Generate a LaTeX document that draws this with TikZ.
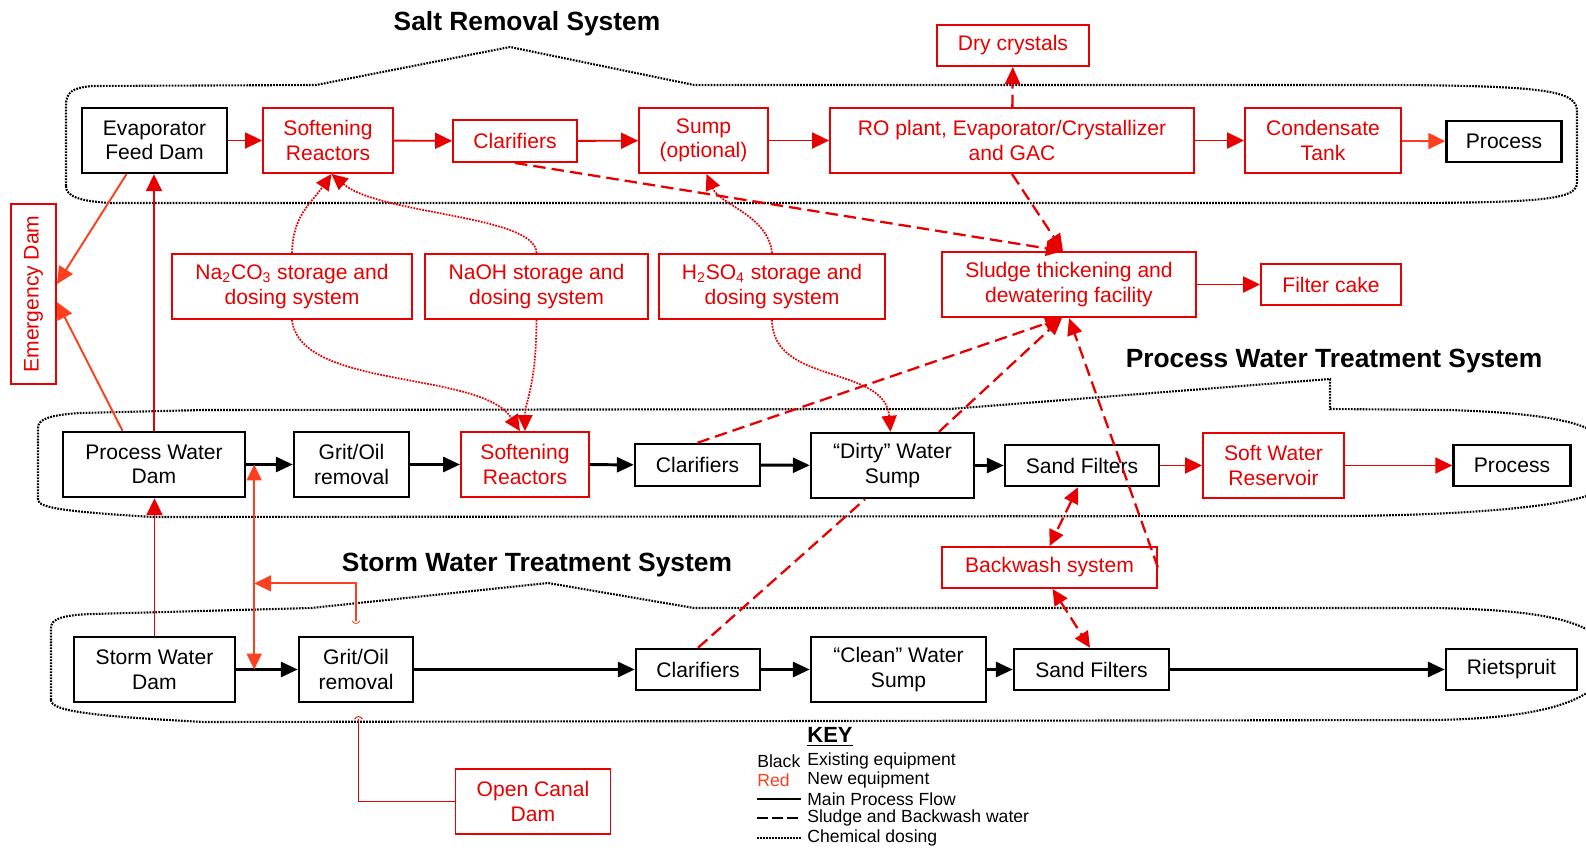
\documentclass[tikz,border=0pt]{standalone}
\usepackage{graphicx}
\usepackage{fontspec}
\setmainfont{Liberation Sans}
\usetikzlibrary{arrows.meta,calc}
\definecolor{newred}{RGB}{232,0,0}
\definecolor{emred}{RGB}{250,64,30}

\begin{document}
\begin{tikzpicture}[x=0.02cm,y=-0.02cm,
  oldbox/.style={draw=black,line width=1.4pt,align=center,inner sep=0pt,font=\fontsize{12}{14}\selectfont},
  newbox/.style={draw=newred,text=newred,line width=1.1pt,align=center,inner sep=0pt,font=\fontsize{12}{14}\selectfont},
  flow/.style={line width=1.7pt,-{Triangle[length=0.34cm,width=0.3cm]}},
  newflow/.style={newred,line width=1.1pt,-{Triangle[length=0.34cm,width=0.32cm]}},
  emflow/.style={emred,line width=1.1pt,-{Triangle[length=0.34cm,width=0.32cm]}},
  sludge/.style={newred,line width=1.3pt,dash pattern=on 0.25cm off 0.12cm,-{Triangle[length=0.34cm,width=0.3cm]}},
  both/.style={{Triangle[length=0.32cm,width=0.3cm]}-{Triangle[length=0.32cm,width=0.3cm]}},
  dosing/.style={newred,line width=1pt,dash pattern=on 1pt off 0.7pt,-{Triangle[length=0.32cm,width=0.3cm]}},
  outline/.style={line width=1.2pt,dash pattern=on 1pt off 0.7pt},
  title/.style={font=\fontsize{15}{17}\selectfont\bfseries},
  keytext/.style={font=\fontsize{10}{12}\selectfont,anchor=west,inner sep=0pt}]
\useasboundingbox (0,0) rectangle (1586,851);

% system outlines
\draw[outline] (66,186) -- (66,106) .. controls (66,92) and (72,88) .. (92,86) -- (316,85) -- (510,47) -- (694,85) -- (1397,85)
  .. controls (1555,86) and (1577,92) .. (1577,112) -- (1577,182) .. controls (1577,198) and (1555,203) .. (1397,203)
  -- (110,203) .. controls (78,201) and (66,196) .. (66,186);
\draw[outline] (38,500) -- (38,428) .. controls (38,419) and (50,415) .. (80,413) -- (204,410) -- (950,409) -- (1330,379) -- (1330,409)
  -- (1450,410) .. controls (1540,413) and (1600,422) .. (1605,445) -- (1605,485) .. controls (1600,500) and (1520,514) .. (1350,516)
  -- (153,517) .. controls (70,512) and (38,508) .. (38,500);
\draw[outline] (51,700) -- (51,628) .. controls (51,619) and (62,615) .. (92,614) -- (311,608) -- (548,583) -- (694,608) -- (1434,608)
  .. controls (1560,610) and (1605,625) .. (1610,660) .. controls (1605,695) and (1560,718) .. (1434,720)
  -- (204,722) .. controls (90,716) and (51,711) .. (51,700);

\node[title] (t1) at (527,24) {Salt Removal System};
\node[title] (t2) at (1334,361) {Process Water Treatment System};
\node[title] (t3) at (537,565) {Storm Water Treatment System};

% salt removal
\node[oldbox,minimum width=2.9cm,minimum height=1.3cm] (efd) at (154.5,140.5) {Evaporator\\Feed Dam};
\node[newbox,minimum width=2.6cm,minimum height=1.3cm] (soft1) at (328,140.5) {Softening\\Reactors};
\node[newbox,minimum width=2.48cm,minimum height=0.84cm] (clar1) at (515,141) {Clarifiers};
\node[newbox,minimum width=2.58cm,minimum height=1.3cm] (sump) at (703.5,140.5) {Sump\\(optional)};
\node[newbox,minimum width=7.28cm,minimum height=1.3cm] (ro) at (1012,140.5) {RO plant, Evaporator/Crystallizer\\and GAC};
\node[newbox,minimum width=3.12cm,minimum height=1.3cm] (cond) at (1323,140.5) {Condensate\\Tank};
\node[oldbox,minimum width=2.3cm,minimum height=0.82cm] (proc1) at (1504,141.5) {Process};
\node[newbox,minimum width=3.04cm,minimum height=0.82cm] (dry) at (1013,45.5) {Dry crystals};
\node[newbox,minimum width=4.8cm,minimum height=1.3cm] (na) at (292,286.5) {Na\textsubscript{2}CO\textsubscript{3} storage and\\dosing system};
\node[newbox,minimum width=4.46cm,minimum height=1.3cm] (naoh) at (536.5,286.5) {NaOH storage and\\dosing system};
\node[newbox,minimum width=4.52cm,minimum height=1.3cm] (h2so4) at (772,286.5) {H\textsubscript{2}SO\textsubscript{4} storage and\\dosing system};
\node[newbox,minimum width=5.08cm,minimum height=1.3cm] (sludge) at (1069,284.5) {Sludge thickening and\\dewatering facility};
\node[newbox,minimum width=2.8cm,minimum height=0.82cm] (cake) at (1331,284.5) {Filter cake};
\node[newbox,minimum width=0.9cm,minimum height=3.6cm] (emerg) at (33.5,294) {\rotatebox{90}{Emergency Dam}};

% process water
\node[oldbox,minimum width=3.64cm,minimum height=1.3cm] (pwd) at (154,464.5) {Process Water\\Dam};
\node[oldbox,minimum width=2.3cm,minimum height=1.3cm] (grit1) at (351.5,464.5) {Grit/Oil\\removal};
\node[newbox,minimum width=2.56cm,minimum height=1.3cm] (soft2) at (525,464.5) {Softening\\Reactors};
\node[oldbox,minimum width=2.5cm,minimum height=0.84cm] (clar2) at (697.5,465) {Clarifiers};
\node[oldbox,minimum width=3.26cm,minimum height=1.3cm] (dirty) at (892.5,465.5) {“Dirty” Water\\Sump};
\node[oldbox,minimum width=3.08cm,minimum height=0.82cm] (sand1) at (1082,465.5) {Sand Filters};
\node[newbox,minimum width=2.82cm,minimum height=1.3cm] (swr) at (1273.5,465.5) {Soft Water\\Reservoir};
\node[oldbox,minimum width=2.34cm,minimum height=0.82cm] (proc2) at (1512,465.5) {Process};
\node[newbox,minimum width=4.3cm,minimum height=0.82cm] (back) at (1049.5,567.5) {Backwash system};

% storm water
\node[oldbox,minimum width=3.22cm,minimum height=1.3cm] (swd) at (154.5,669.5) {Storm Water\\Dam};
\node[oldbox,minimum width=2.28cm,minimum height=1.3cm] (grit2) at (356,669.5) {Grit/Oil\\removal};
\node[oldbox,minimum width=2.48cm,minimum height=0.82cm] (clar3) at (698,669.5) {Clarifiers};
\node[oldbox,minimum width=3.5cm,minimum height=1.3cm] (clean) at (898.5,669.5) {“Clean” Water\\Sump};
\node[oldbox,minimum width=3.1cm,minimum height=0.82cm] (sand2) at (1091.5,669.5) {Sand Filters};
\node[oldbox,minimum width=2.62cm,minimum height=0.82cm] (riet) at (1511.5,669.5) {Rietspruit};
\node[newbox,minimum width=3.1cm,minimum height=1.3cm] (canal) at (533,801.5) {Open Canal\\Dam};

% top row flows
\draw[newflow] (efd) -- (soft1);
\draw[newflow] (soft1) -- (clar1);
\draw[newflow] (clar1) -- (sump);
\draw[newflow] (sump) -- (ro);
\draw[newflow] (ro) -- (cond);
\draw[emflow] (cond) -- (proc1);
\draw[newflow] (sludge) -- (cake);
\draw[sludge] (ro) -- (dry);
\draw[sludge] (ro.south) -- ([xshift=-0.12cm]sludge.north);
\draw[sludge] (clar1.south) -- ([xshift=-0.12cm]sludge.north);

% chemical dosing
\draw[dosing] (na.north) .. controls (293,215) and (310,205) .. ([xshift=0.07cm]soft1.south);
\draw[dosing] (naoh.north) .. controls (536,215) and (380,215) .. ([xshift=0.07cm]soft1.south);
\draw[dosing] (h2so4.north) .. controls (768,215) and (720,205) .. ([xshift=0.06cm]sump.south);
\draw[dosing] (na.south) .. controls (300,390) and (480,370) .. ([xshift=-0.1cm]soft2.north);
\draw[dosing] (naoh.south) .. controls (536,390) and (525,400) .. (soft2.north);
\draw[dosing] (h2so4.south) .. controls (772,385) and (885,365) .. ([xshift=-0.04cm]dirty.north);

% process water flows
\draw[flow] (pwd) -- (grit1);
\draw[flow] (grit1) -- (soft2);
\draw[flow] (soft2) -- (clar2);
\draw[flow] (clar2) -- (dirty);
\draw[flow] (dirty) -- (sand1);
\draw[newflow] (sand1) -- (swr);
\draw[newflow] (swr) -- (proc2);
\draw[newflow] (pwd.north) -- (pwd.north |- efd.south);
\draw[emflow] ([xshift=-0.56cm]efd.south) -- ([yshift=0.2cm]emerg.east);
\draw[emflow] ([xshift=-0.63cm]pwd.north) -- ([yshift=-0.16cm]emerg.east);
\draw[sludge] (clar2.north) -- ([xshift=-0.14cm]sludge.south);
\draw[sludge] ([xshift=0.93cm]dirty.north) -- ([xshift=-0.14cm]sludge.south);
\draw[sludge] (back.east) -- (sludge.south);
\draw[sludge,both] ([xshift=-0.08cm]sand1.south) -- (back.north);
\draw[sludge,both] ([xshift=0.06cm]back.south) -- ([xshift=-0.03cm]sand2.north);
\draw[sludge,-] (clar3.north) -- ([xshift=-0.55cm]dirty.south);

% storm water flows
\draw[flow] (swd) -- (grit2);
\draw[flow] (grit2) -- (clar3);
\draw[flow] (clar3) -- (clean);
\draw[flow] (clean) -- (sand2);
\draw[flow] (sand2) -- (riet);
\draw[newflow] (swd.north) -- (swd.north |- pwd.south);

\coordinate (pj) at ([xshift=0.16cm]pwd.east);
\coordinate (sj) at (pj |- swd.east);
\coordinate (gs) at ([yshift=0.3cm]grit2.north);
\coordinate (cs) at ([xshift=0.05cm,yshift=-0.32cm]grit2.south);
\draw[emflow,both] (pj) -- (sj);
\draw[emflow] (gs) |- ($(pj)!0.58!(sj)$);
\draw[emred,line width=0.5pt] ([xshift=-0.08cm]gs) .. controls ([xshift=-0.04cm,yshift=-0.07cm]gs) and ([xshift=0.04cm,yshift=-0.07cm]gs) .. ([xshift=0.08cm]gs);
\draw[newred,line width=1.1pt] (cs) |- (canal.west);
\draw[newred,line width=0.5pt] ([xshift=-0.08cm]cs) .. controls ([xshift=-0.04cm,yshift=0.07cm]cs) and ([xshift=0.04cm,yshift=0.07cm]cs) .. ([xshift=0.08cm]cs);

% key
\node[font=\fontsize{12.5}{14}\selectfont\bfseries,inner sep=0pt] (key) at (830,737) {\underline{KEY}};
\node[keytext] (k1) at (757,761) {Black};
\node[keytext] (k1t) at (807,761) {Existing equipment};
\node[keytext,text=emred] (k2) at (757,780) {Red};
\node[keytext] (k2t) at (807,780) {New equipment};
\node[keytext] (k3t) at (807,799) {Main Process Flow};
\node[keytext] (k4t) at (807,818) {Sludge and Backwash water};
\node[keytext] (k5t) at (807,838) {Chemical dosing};
\draw[line width=1.5pt] (757,799) -- (801,799);
\draw[line width=1.3pt,dash pattern=on 0.22cm off 0.08cm] (757,818) -- (801,818);
\draw[outline] (757,838) -- (801,838);
\end{tikzpicture}
\end{document}
